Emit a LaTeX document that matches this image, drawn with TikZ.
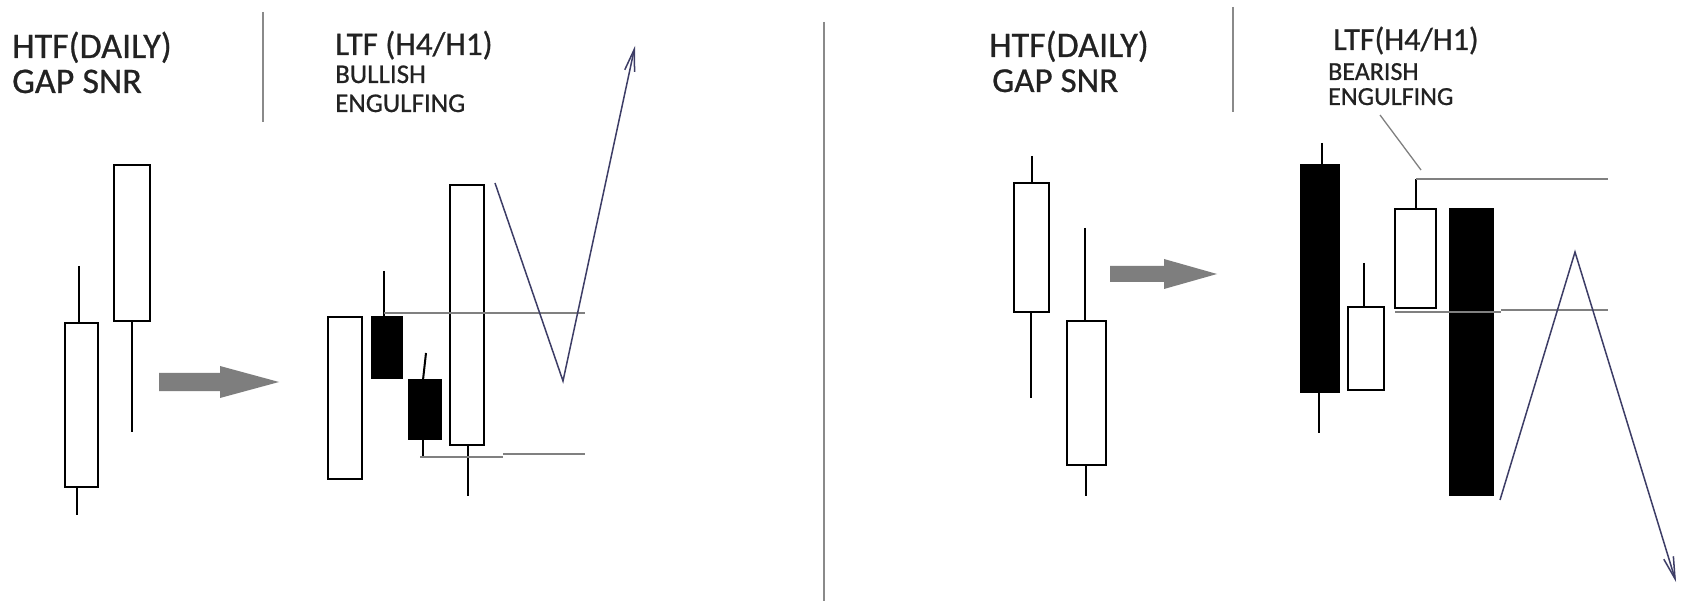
\documentclass[tikz,border=0pt]{standalone}
\usepackage{fontspec}
\setmainfont{Carlito}[FakeBold=0.7]
\usetikzlibrary{arrows.meta}
\definecolor{guide}{HTML}{808080}
\definecolor{divcol}{HTML}{8A8A8A}
\definecolor{fatarrow}{HTML}{7E7E7E}
\definecolor{pathcol}{HTML}{3D3D66}
\definecolor{textcol}{HTML}{222222}
\tikzset{
  wbody/.style={draw=black, line width=2.2pt, fill=white},
  bbody/.style={draw=black, line width=1pt, fill=black},
  wick/.style={draw=black, line width=2pt},
  level/.style={draw=guide, line width=2pt},
  divider/.style={draw=divcol, line width=1.6pt},
  fatarr/.style={fill=fatarrow, draw=none},
  move/.style={draw=pathcol, line width=1.5pt, -{Straight Barb[length=22pt,width=10pt,line width=1.5pt]}},
  pointer/.style={draw=guide, line width=1.3pt},
  big/.style={inner sep=0pt, anchor=base west, text=textcol, font=\fontsize{36}{40}\selectfont},
  mid/.style={inner sep=0pt, anchor=base west, text=textcol, font=\fontsize{33}{36}\selectfont},
  small/.style={inner sep=0pt, anchor=base west, text=textcol, font=\fontsize{27}{30}\selectfont},
}
\begin{document}
\begin{tikzpicture}[x=1pt,y=-1pt]
\useasboundingbox (0,0) rectangle (1689,601);
\fill[white] (0,0) rectangle (1689,601);

% ---------- dividers ----------
\draw[divider] (263,12) -- (263,122);
\draw[divider] (824,22) -- (824,601);
\draw[divider] (1233,7) -- (1233,112);

% ---------- left texts ----------
\node[big] (lhtf) at (12,58) {HTF(DAILY)};
\node[big] (lgap) at (12,93) {GAP SNR};
\node[mid] (lltf) at (335,55) {LTF (H4/H1)};
\node[small] (lbull) at (335,83) {BULLISH};
\node[small] (lengl) at (335,112) {ENGULFING};

% ---------- right texts ----------
\node[big] (rhtf) at (989,57) {HTF(DAILY)};
\node[big, font=\fontsize{35}{38}\selectfont] (rgap) at (992,92) {GAP SNR};
\node[mid, font=\fontsize{32}{35}\selectfont] (rltf) at (1333,50) {LTF(H4/H1)};
\node[small, font=\fontsize{26}{29}\selectfont] (rbear) at (1328,80) {BEARISH};
\node[small, font=\fontsize{26}{29}\selectfont] (rengl) at (1328,105) {ENGULFING};

% ---------- left HTF candles ----------
\draw[wick] (79,266) -- (79,323);
\draw[wick] (77,487) -- (77,515);
\draw[wbody] (65,323) rectangle (98,487);
\draw[wick] (132,321) -- (132,432);
\draw[wbody] (114,165) rectangle (150,321);

% left fat arrow
\fill[fatarr] (159,373) -- (220,373) -- (220,366) -- (279,382) -- (220,398) -- (220,391) -- (159,391) -- cycle;

% ---------- left LTF candles ----------
\draw[wbody] (328,317) rectangle (362,479);
\draw[wick] (384,271) -- (384,317);
\draw[bbody] (371,317) rectangle (402,379);
\draw[wick] (426,353) -- (423,380);
\draw[wick] (423,439) -- (423,456);
\draw[bbody] (408,380) rectangle (441,439);
\draw[wick] (468,445) -- (468,496);
\draw[wbody] (450,185) rectangle (484,445);

% levels
\coordinate (lhiA) at (384,313);
\coordinate (lhiB) at (585,313);
\draw[level] (lhiA) -- (lhiB);
\coordinate (lloA) at (420,457);
\coordinate (lloM) at (503,457);
\coordinate (lloN) at (503,454);
\coordinate (lloB) at (585,454);
\draw[level] (lloA) -- (lloM);
\draw[level] (lloN) -- (lloB);

% move
\coordinate (lm0) at (495,183);
\coordinate (lm1) at (563,381);
\coordinate (lm2) at (635,46);
\draw[move] (lm0) -- (lm1) -- (lm2);

% ---------- right HTF candles ----------
\draw[wick] (1032,156) -- (1032,183);
\draw[wick] (1031,312) -- (1031,398);
\draw[wbody] (1014,183) rectangle (1049,312);
\draw[wick] (1085,228) -- (1085,321);
\draw[wick] (1086,465) -- (1086,496);
\draw[wbody] (1067,321) rectangle (1106,465);

% right fat arrow
\fill[fatarr] (1110,266) -- (1164,266) -- (1164,259) -- (1217,274) -- (1164,289) -- (1164,282) -- (1110,282) -- cycle;

% ---------- right LTF candles ----------
\draw[wick] (1322,143) -- (1322,165);
\draw[wick] (1319,392) -- (1319,433);
\draw[bbody] (1300,165) rectangle (1339,392);
\draw[wick] (1364,263) -- (1364,307);
\draw[wbody] (1348,307) rectangle (1384,390);
\draw[wick] (1416,179) -- (1416,209);
\draw[wbody] (1395,209) rectangle (1436,308);
\draw[bbody] (1449,209) rectangle (1493,495);

% levels
\coordinate (rhiA) at (1416,179);
\coordinate (rhiB) at (1608,179);
\draw[level] (rhiA) -- (rhiB);
\coordinate (rloA) at (1395,312);
\coordinate (rloM) at (1501,312);
\coordinate (rloN) at (1501,310);
\coordinate (rloB) at (1608,310);
\draw[level] (rloA) -- (rloM);
\draw[level] (rloN) -- (rloB);

% pointer from label
\coordinate (rp0) at (1380,115);
\coordinate (rp1) at (1421,170);
\draw[pointer] (rp0) -- (rp1);

% move
\coordinate (rm0) at (1500,500);
\coordinate (rm1) at (1575,252);
\coordinate (rm2) at (1676,582);
\draw[move] (rm0) -- (rm1) -- (rm2);
\end{tikzpicture}
\end{document}
